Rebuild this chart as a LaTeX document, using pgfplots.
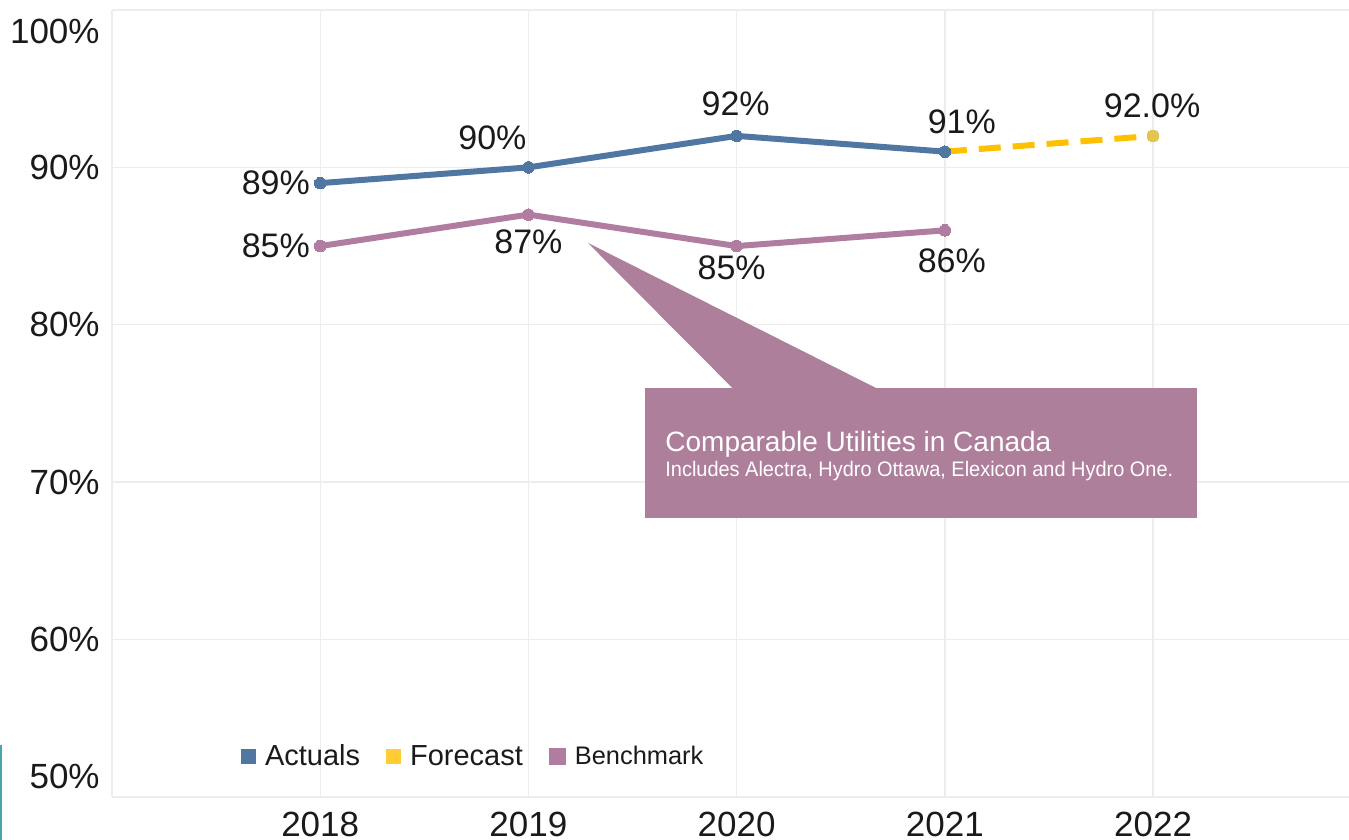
\documentclass[border=0pt]{standalone}
\usepackage{fontspec}
\setmainfont{Liberation Sans}
\usepackage{pgfplots}
\pgfplotsset{compat=1.18}
\definecolor{actual}{HTML}{4F77A2}
\definecolor{bench}{HTML}{B07CA0}
\definecolor{fcast}{HTML}{FFC000}
\definecolor{fcleg}{HTML}{FFCC33}
\definecolor{fcmark}{HTML}{E3C650}
\definecolor{callout}{HTML}{AD7F9B}
\definecolor{gridc}{HTML}{EDEDED}
\definecolor{txt}{HTML}{1A1A1A}
\begin{document}
\begin{tikzpicture}
\begin{axis}[
  name=ax,
  scale only axis,
  width=618.5pt, height=393.5pt,
  xmin=2017, xmax=2022.941,
  ymin=50, ymax=100,
  xtick={2017,2018,2019,2020,2021,2022},
  xticklabels={,2018,2019,2020,2021,2022},
  ytick={50,60,70,80,90,100},
  yticklabels={\raisebox{4.2pt}[0pt][0pt]{50\%},60\%,70\%,80\%,90\%,\raisebox{-16.8pt}[0pt][0pt]{100\%}},
  grid=major,
  grid style={draw=gridc, line width=0.7pt},
  axis line style={draw=none},
  major tick length=0pt,
  tick label style={font=\fontsize{17.5}{20}\selectfont, text=txt},
  /pgf/number format/assume math mode=true,
  xticklabel style={anchor=north, inner sep=0pt, yshift=-7.5pt},
  yticklabel style={anchor=east, inner sep=0pt, xshift=-6pt},
  clip=false,
  legend columns=-1,
  legend style={draw=none, fill=none, inner sep=0pt, outer sep=0pt,
    at={(0.1043,0.0508)}, anchor=west,
    font=\fontsize{14.5}{17}\selectfont, text=txt,
    /tikz/every odd column/.append style={column sep=2.5pt},
    /tikz/every even column/.append style={column sep=11pt}},
]
% callout shape
\fill[callout] (axis cs:2019.56,75.98) -- (axis cs:2019.98,75.98) -- (axis cs:2019.286,85.2)
  -- (axis cs:2020.67,75.98) -- (axis cs:2022.21,75.98) -- (axis cs:2022.21,67.73)
  -- (axis cs:2019.56,67.73) -- cycle;
\node[anchor=base west, inner sep=0pt, text=white, font=\fontsize{14}{16}\selectfont]
  at (axis cs:2019.656,71.98) {Comparable Utilities in Canada};
\node[anchor=base west, inner sep=0pt, text=white, font=\fontsize{10.5}{12}\selectfont]
  at (axis cs:2019.656,70.33) {\scalebox{0.95}[1]{Includes Alectra, Hydro Ottawa, Elexicon and Hydro One.}};

\addplot[actual, line width=3pt, mark=*, mark size=2.9pt, mark options={line width=0pt},
  legend image code/.code={\fill[actual, draw=none] (0pt,-3.75pt) rectangle (7.5pt,3.75pt);}]
  coordinates {(2018,89) (2019,90) (2020,92) (2021,91)};
\addlegendentry{Actuals}
\addplot[fcast, line width=3pt, dash pattern=on 11pt off 6pt, mark=*, mark indices={2}, mark size=2.9pt,
  mark options={solid, fill=fcmark, draw=fcmark, line width=0pt},
  legend image code/.code={\fill[fcleg, draw=none, solid, line width=0pt] (0pt,-3.75pt) rectangle (7.5pt,3.75pt);}]
  coordinates {(2021,91) (2022,92)};
\addlegendentry{Forecast}
\addplot[bench, line width=3pt, mark=*, mark size=2.9pt, mark options={line width=0pt},
  legend image code/.code={\fill[bench, draw=none] (0pt,-4.25pt) rectangle (8.5pt,4.25pt);}]
  coordinates {(2018,85) (2019,87) (2020,85) (2021,86)};
\addlegendentry{\fontsize{12.7}{15}\selectfont Benchmark}

% data labels
\begin{scope}[every node/.style={font=\fontsize{17}{20}\selectfont, text=txt, inner sep=0pt}]
\node[anchor=east] at ([xshift=-5pt]axis cs:2018,89) {89\%};
\node[anchor=east] at ([xshift=-5pt]axis cs:2018,85) {85\%};
\node at ([xshift=-18pt,yshift=15pt]axis cs:2019,90) {90\%};
\node at ([xshift=0pt,yshift=-13.5pt]axis cs:2019,87) {87\%};
\node at ([xshift=-0.5pt,yshift=16pt]axis cs:2020,92) {92\%};
\node at ([xshift=-2.5pt,yshift=-11pt]axis cs:2020,85) {85\%};
\node at ([xshift=8.5pt,yshift=15pt]axis cs:2021,91) {91\%};
\node at ([xshift=3.5pt,yshift=-15pt]axis cs:2021,86) {86\%};
\node at ([xshift=-0.5pt,yshift=15pt]axis cs:2022,92) {92.0\%};
\end{scope}
\end{axis}
\draw[color=teal!70, line width=1pt] ([xshift=-55.5pt,yshift=26pt]ax.south west) -- ([xshift=-55.5pt,yshift=-21.5pt]ax.south west);
\pgfresetboundingbox
\path ([xshift=-56pt,yshift=-21.5pt]ax.south west) rectangle ([yshift=5pt]ax.north east);
\end{tikzpicture}
\end{document}
